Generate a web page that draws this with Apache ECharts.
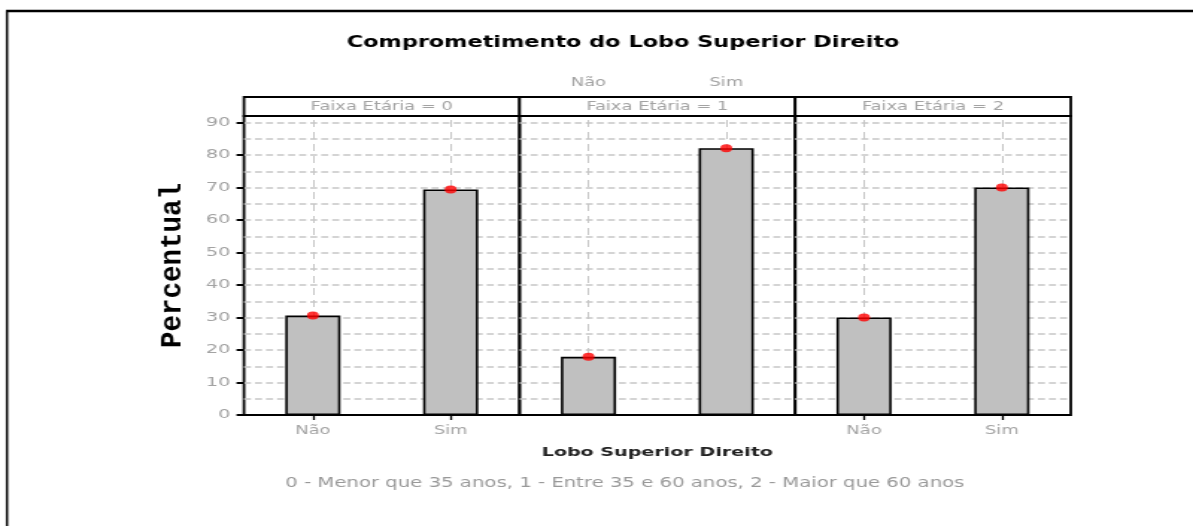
<!DOCTYPE html>
<html>
<head>
<meta charset="utf-8">
<title>Comprometimento do Lobo Superior Direito</title>
<script src="https://cdn.jsdelivr.net/npm/echarts@6/dist/echarts.min.js"></script>
<style>
  html, body { margin: 0; padding: 0; background: #fff; overflow: hidden; }
  #wrap { width: 1193px; height: 526px; overflow: hidden; }
  /* the reference is a stretched 800px-wide export, so draw at 800 and stretch */
  #chart { width: 800px; height: 526px; transform: scaleX(1.49125); transform-origin: 0 0; }
</style>
</head>
<body>
<div id="wrap"><div id="chart"></div></div>
<script>
// dados
var faixas = ['0', '1', '2'];
var respostas = ['Não', 'Sim'];
var percFaixa0 = [30.6, 69.4];
var percFaixa1 = [17.9, 82.1];
var percFaixa2 = [30.0, 70.0];
var yTicks = [0, 10, 20, 30, 40, 50, 60, 70, 80, 90];
var yGrade = [5, 10, 15, 20, 25, 30, 35, 40, 45, 50, 55, 60, 65, 70, 75, 80, 85, 90];
var yMax = 92;

var titulo = 'Comprometimento do Lobo Superior Direito';
var nomeX = 'Lobo Superior Direito';
var nomeY = 'Percentual';
var rodape = '0 - Menor que 35 anos, 1 - Entre 35 e 60 anos, 2 - Maior que 60 anos';

var valores = [percFaixa0, percFaixa1, percFaixa2];

var fonte = 'DejaVu Sans';
var cinza = '#a3a3a3';
var gridLeft = 163.6, gridW = 184.8, gridTop = 116, gridH = 299, stripH = 19;

var grids = [], xAxes = [], yAxes = [], series = [], graphics = [];

for (var i = 0; i < faixas.length; i++) {
  var left = gridLeft + i * gridW;
  var meio = i === 1;

  grids.push({
    left: left, top: gridTop, width: gridW, height: gridH,
    show: true, borderColor: '#000', borderWidth: 1.8, backgroundColor: 'transparent'
  });

  xAxes.push({
    gridIndex: i,
    type: 'category',
    data: respostas,
    position: meio ? 'top' : 'bottom',
    offset: meio ? stripH : 0,
    axisLine: { show: false },
    axisTick: {
      show: true, alignWithLabel: true, length: 5,
      lineStyle: { color: '#000', width: 1.3 }
    },
    axisLabel: {
      show: true, color: cinza, fontFamily: fonte, fontSize: 12, margin: meio ? 8 : 10
    },
    splitLine: { show: false }
  });

  // eixo so para a grade tracejada (a cada 5)
  yAxes.push({
    gridIndex: i,
    type: 'value',
    position: 'left',
    min: 0, max: yMax, interval: 5,
    axisLine: { show: false },
    axisTick: { show: false, customValues: yGrade },
    axisLabel: { show: false },
    splitLine: {
      show: true,
      lineStyle: { color: '#c6c6c6', type: [4.7, 2.7], width: 1.5 }
    }
  });

  series.push({
    type: 'bar',
    xAxisIndex: i,
    yAxisIndex: i,
    data: valores[i],
    barWidth: '40%',
    itemStyle: { color: '#c0c0c0', borderColor: '#000', borderWidth: 1.6 },
    markLine: {
      silent: true,
      z: 1,
      symbol: 'none',
      label: { show: false },
      lineStyle: { color: '#c6c6c6', type: [7, 5], width: 1 },
      data: respostas.map(function (r) { return { xAxis: r }; })
    }
  });

  series.push({
    type: 'scatter',
    xAxisIndex: i,
    yAxisIndex: i,
    data: valores[i],
    symbol: 'circle',
    symbolSize: 8,
    z: 4,
    itemStyle: { color: '#ff0000' }
  });

  graphics.push({
    type: 'rect',
    shape: { x: left, y: gridTop - stripH, width: gridW, height: stripH },
    style: { fill: '#fff', stroke: '#000', lineWidth: 1.8 }
  });
  graphics.push({
    type: 'text',
    x: left + gridW / 2,
    y: gridTop - stripH / 2 + 0.5,
    style: {
      text: 'Faixa Etária = ' + faixas[i],
      fill: cinza, fontFamily: fonte, fontSize: 12,
      textAlign: 'center', textVerticalAlign: 'middle'
    }
  });
}

// eixo com os rotulos de 10 em 10, so no primeiro painel
yAxes.push({
  gridIndex: 0,
  type: 'value',
  position: 'left',
  min: 0, max: yMax, interval: 10,
  axisLine: { show: false },
  axisTick: {
    show: true, length: 5, customValues: yTicks,
    lineStyle: { color: '#000', width: 2 }
  },
  axisLabel: {
    show: true, customValues: yTicks,
    color: cinza, fontFamily: fonte, fontSize: 13, margin: 9
  },
  splitLine: { show: false }
});

// moldura
graphics.push({
  type: 'line',
  shape: { x1: 4.7, y1: 11, x2: 4.7, y2: 526 },
  style: { stroke: '#000', lineWidth: 1.5 }
});
graphics.push({
  type: 'line',
  shape: { x1: 4, y1: 11, x2: 800, y2: 11 },
  style: { stroke: '#000', lineWidth: 2.5 }
});

graphics.push({
  type: 'text', x: 417.8, y: 43.5,
  style: {
    text: titulo, fill: '#000', fontFamily: fonte, fontWeight: 'bold', fontSize: 15,
    textAlign: 'center', textVerticalAlign: 'middle'
  }
});
graphics.push({
  type: 'text', x: 440.8, y: 453,
  style: {
    text: nomeX, fill: '#222', fontFamily: fonte, fontWeight: 'bold', fontSize: 12.8,
    textAlign: 'center', textVerticalAlign: 'middle'
  }
});
graphics.push({
  type: 'text', x: 419, y: 484,
  style: {
    text: rodape, fill: '#999', fontFamily: fonte, fontSize: 13.2,
    textAlign: 'center', textVerticalAlign: 'middle'
  }
});
graphics.push({
  type: 'text', x: 116, y: 265.5, rotation: Math.PI / 2, scaleX: 1.375,
  style: {
    text: nomeY, fill: '#000', fontFamily: 'Liberation Mono', fontWeight: 'bold', fontSize: 20,
    textAlign: 'center', textVerticalAlign: 'middle'
  }
});

var myChart = echarts.init(document.getElementById('chart'));
myChart.setOption({
  animation: false,
  backgroundColor: '#fff',
  grid: grids,
  xAxis: xAxes,
  yAxis: yAxes,
  series: series,
  graphic: graphics
});
</script>
</body>
</html>
